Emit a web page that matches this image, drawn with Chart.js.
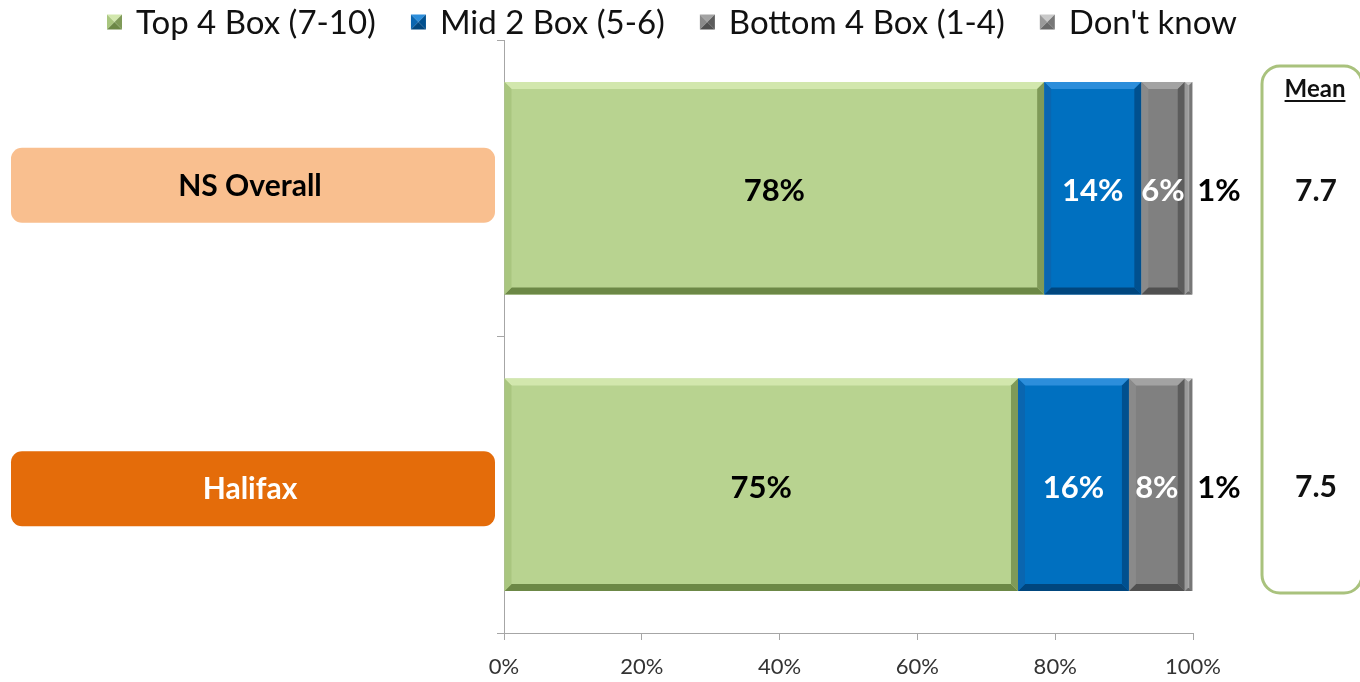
<!DOCTYPE html>
<html><head><meta charset="utf-8">
<script src="https://cdn.jsdelivr.net/npm/chart.js@4/dist/chart.umd.min.js"></script>
<style>html,body{margin:0;padding:0;background:#fff;overflow:hidden;}#wrap{width:1360px;height:682px;}</style>
</head><body><div id="wrap"><canvas id="c" width="1360" height="682"></canvas></div>
<script>
// ---- data ----
const categories = ['NS Overall', 'Halifax'];
const seriesNames = ['Top 4 Box (7-10)', 'Mid 2 Box (5-6)', 'Bottom 4 Box (1-4)', "Don't know"];
const top4 = [78.4, 74.6];
const mid2 = [14.1, 16.1];
const bottom4 = [6.3, 8.1];
const dontKnow = [1.1, 1.1];
const means = ['7.7', '7.5'];
const meanTitle = 'Mean';
const xTicks = [0, 20, 40, 60, 80, 100];

// ---- styles ----
const FONT = 'Lato, "Open Sans", sans-serif';
const fills  = ['#b8d390', '#0070c0', '#808080', '#a6a6a6'];
const lights = ['#d2e7ad', '#2c8edb', '#a3a3a3', '#c9c9c9'];
const sideL  = ['#a9c67f', '#0a66b0', '#8a8a8a', '#9a9a9a'];
const darks  = ['#6c8846', '#00467e', '#505050', '#6a6a6a'];
const sideR  = ['#7f9a58', '#00508f', '#5c5c5c', '#777777'];
const labelColors = ['#000000', '#ffffff', '#ffffff', '#000000'];
const catFills = ['#f9bf8f', '#e46c0a'];
const catText = ['#000000', '#ffffff'];
const catBoxShift = [-3, 4];

function poly(ctx, pts, color) {
  ctx.beginPath();
  ctx.moveTo(pts[0][0], pts[0][1]);
  for (let i = 1; i < pts.length; i++) ctx.lineTo(pts[i][0], pts[i][1]);
  ctx.closePath();
  ctx.fillStyle = color;
  ctx.fill();
}
function rrect(ctx, x, y, w, h, r) {
  ctx.beginPath();
  ctx.moveTo(x + r, y);
  ctx.arcTo(x + w, y, x + w, y + h, r);
  ctx.arcTo(x + w, y + h, x, y + h, r);
  ctx.arcTo(x, y + h, x, y, r);
  ctx.arcTo(x, y, x + w, y, r);
  ctx.closePath();
}

const bevelPlugin = {
  id: 'bevel',
  afterDatasetsDraw(chart) {
    const ctx = chart.ctx;
    ctx.save();
    chart.data.datasets.forEach((ds, di) => {
      const meta = chart.getDatasetMeta(di);
      meta.data.forEach(el => {
        const p = el.getProps(['x', 'y', 'base', 'height'], true);
        const l = Math.min(p.x, p.base), r = Math.max(p.x, p.base);
        const t = p.y - p.height / 2, b = p.y + p.height / 2;
        const w = r - l;
        const bv = Math.min(7, w / 2.5);
        poly(ctx, [[l, t], [r, t], [r - bv, t + bv], [l + bv, t + bv]], lights[di]);
        poly(ctx, [[l, b], [r, b], [r - bv, b - bv], [l + bv, b - bv]], darks[di]);
        poly(ctx, [[l, t], [l + bv, t + bv], [l + bv, b - bv], [l, b]], sideL[di]);
        poly(ctx, [[r, t], [r - bv, t + bv], [r - bv, b - bv], [r, b]], sideR[di]);
      });
    });
    // data labels
    ctx.font = 'bold 31px ' + FONT;
    ctx.textBaseline = 'middle';
    chart.data.datasets.forEach((ds, di) => {
      const meta = chart.getDatasetMeta(di);
      meta.data.forEach((el, i) => {
        const p = el.getProps(['x', 'y', 'base'], true);
        const txt = Math.round(ds.data[i]) + '%';
        ctx.fillStyle = labelColors[di];
        if (di === 3) {
          ctx.textAlign = 'left';
          ctx.fillText(txt, Math.max(p.x, p.base) + 5, p.y + 3);
        } else {
          ctx.textAlign = 'center';
          ctx.fillText(txt, (p.x + p.base) / 2, p.y + 3);
        }
      });
    });
    ctx.restore();
  },
  afterDraw(chart) {
    const ctx = chart.ctx;
    const ys = chart.scales.y;
    ctx.save();
    // category boxes
    categories.forEach((c, i) => {
      const cy = ys.getPixelForValue(i) + catBoxShift[i];
      rrect(ctx, 11, cy - 37.5, 484, 75, 11);
      ctx.fillStyle = catFills[i];
      ctx.fill();
      ctx.fillStyle = catText[i];
      ctx.font = 'bold 30px ' + FONT;
      ctx.textAlign = 'center';
      ctx.textBaseline = 'middle';
      ctx.fillText(c, 250, cy + 1);
    });
    // mean box
    rrect(ctx, 1262, 66, 100, 527, 18);
    ctx.lineWidth = 3;
    ctx.strokeStyle = '#a9c27d';
    ctx.stroke();
    ctx.fillStyle = '#111';
    ctx.font = 'bold 24px ' + FONT;
    ctx.textAlign = 'center';
    ctx.textBaseline = 'middle';
    ctx.fillText(meanTitle, 1315, 89);
    const mw = ctx.measureText(meanTitle).width;
    ctx.fillRect(1315 - mw / 2, 100, mw, 2);
    ctx.font = 'bold 30px ' + FONT;
    means.forEach((m, i) => {
      ctx.fillText(m, 1316, ys.getPixelForValue(i) + 3);
    });
    // legend
    ctx.font = '33px ' + FONT;
    const box = 15, gapT = 14, gapI = 35;
    const widths = seriesNames.map(s => box + gapT + ctx.measureText(s).width);
    const total = widths.reduce((a, b) => a + b, 0) + gapI * (seriesNames.length - 1);
    let x = 672 - total / 2;
    const ly = 22;
    seriesNames.forEach((s, i) => {
      const bx = x, by = ly - box / 2, c = box / 2;
      poly(ctx, [[bx, by], [bx + box, by], [bx + c, by + c]], lights[i]);
      poly(ctx, [[bx, by], [bx + c, by + c], [bx, by + box]], sideL[i]);
      poly(ctx, [[bx, by + box], [bx + c, by + c], [bx + box, by + box]], darks[i]);
      poly(ctx, [[bx + box, by], [bx + box, by + box], [bx + c, by + c]], sideR[i]);
      ctx.fillStyle = '#111';
      ctx.textAlign = 'left';
      ctx.fillText(s, x + box + gapT, ly + 1);
      x += widths[i] + gapI;
    });
    ctx.restore();
  }
};

const seriesValues = [top4, mid2, bottom4, dontKnow];
new Chart(document.getElementById('c'), {
  type: 'bar',
  data: {
    labels: categories,
    datasets: seriesNames.map((n, i) => ({
      label: n,
      data: seriesValues[i],
      backgroundColor: fills[i],
      borderWidth: 0,
      barPercentage: 0.717,
      categoryPercentage: 1.0
    }))
  },
  options: {
    indexAxis: 'y',
    responsive: false,
    animation: false,
    devicePixelRatio: 1,
    layout: { padding: { top: 40, right: 167, left: 0, bottom: 0 } },
    plugins: { legend: { display: false }, tooltip: { enabled: false } },
    scales: {
      x: {
        stacked: true,
        min: 0, max: 100,
        afterBuildTicks: s => { s.ticks = xTicks.map(v => ({ value: v })); },
        afterFit: s => { s.height = 49; },
        grid: { drawOnChartArea: false, drawTicks: true, tickLength: 7, color: '#a6a6a6' },
        border: { display: true, color: '#a6a6a6' },
        ticks: { callback: v => v + '%', color: '#333', font: { size: 22, family: FONT }, padding: 14, maxRotation: 0 }
      },
      y: {
        stacked: true,
        afterFit: s => { s.width = 504; },
        grid: { drawOnChartArea: false, drawTicks: true, tickLength: 7, color: '#a6a6a6', offset: true },
        border: { display: true, color: '#a6a6a6' },
        ticks: { display: false }
      }
    }
  },
  plugins: [bevelPlugin]
});
</script>
</body></html>
